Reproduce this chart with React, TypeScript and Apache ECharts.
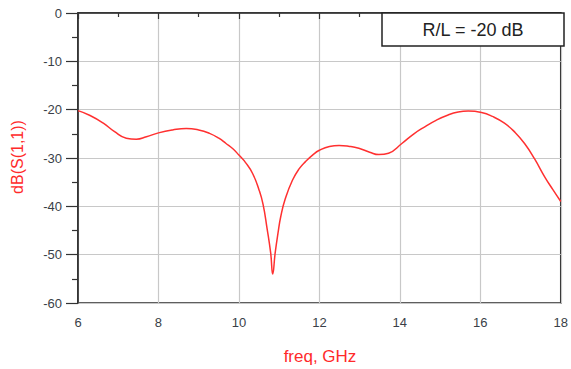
import React, { useEffect, useRef } from "react";
import * as echarts from "echarts";

const freqGHz = [
  6.0, 6.3, 6.63, 6.9, 7.2, 7.45, 7.7, 8.0, 8.35, 8.69, 9.0, 9.27, 9.5, 9.68,
  9.85, 10.0, 10.17, 10.34, 10.5, 10.6, 10.7, 10.79, 10.84, 10.9, 10.97, 11.04,
  11.15, 11.33, 11.5, 11.66, 11.83, 12.0, 12.25, 12.49, 12.75, 12.98, 13.25,
  13.48, 13.72, 14.05, 14.35, 14.63, 14.9, 15.2, 15.45, 15.7, 16.03, 16.3,
  16.6, 16.85, 17.1, 17.35, 17.6, 17.8, 18.0,
];
const s11dB = [
  -20.2, -21.2, -22.8, -24.5, -25.9, -26.1, -25.6, -24.8, -24.2, -23.9, -24.2,
  -24.9, -25.9, -27.0, -28.1, -29.4, -31.0, -33.2, -36.6, -39.6, -44.6, -49.7,
  -54.0, -49.7, -45.6, -42.1, -38.5, -34.6, -32.2, -30.7, -29.4, -28.4, -27.6,
  -27.4, -27.6, -28.0, -28.8, -29.3, -29.0, -27.0, -25.0, -23.5, -22.2, -21.1,
  -20.5, -20.3, -20.6, -21.4, -22.8, -24.6, -27.0, -30.2, -33.9, -36.5, -39.0,
];
const legendText = "R/L = -20 dB";
const xTitle = "freq, GHz";
const yTitle = "dB(S(1,1))";

export default function App() {
  const ref = useRef<HTMLDivElement>(null);
  useEffect(() => {
    if (!ref.current) return;
    const chart = echarts.init(ref.current, null, { renderer: "svg" });
    const data = freqGHz.map((f, i) => [f, s11dB[i]]);
    const labelColor = "#3a3f48";
    chart.setOption({
      animation: false,
      backgroundColor: "#ffffff",
      grid: {
        left: 78,
        right: 8,
        top: 13,
        bottom: 66,
        show: true,
        borderColor: "#2a2a2a",
        borderWidth: 1.6,
        backgroundColor: "transparent",
      },
      xAxis: {
        type: "value",
        min: 6,
        max: 18,
        interval: 2,
        axisLine: { show: true, lineStyle: { color: "#2a2a2a", width: 1.6 } },
        axisTick: { show: true, length: 6, lineStyle: { color: "#333333", width: 1.2 } },
        minorTick: { show: true, splitNumber: 2, length: 4, lineStyle: { color: "#333333", width: 1.2 } },
        axisLabel: { color: labelColor, fontSize: 13, fontFamily: "Liberation Sans, Arial", margin: 13 },
        splitLine: { show: true, lineStyle: { color: "#c8c8c8", width: 1.2 } },
      },
      yAxis: {
        type: "value",
        min: -60,
        max: 0,
        interval: 10,
        axisLine: { show: true, lineStyle: { color: "#2a2a2a", width: 1.6 } },
        axisTick: { show: true, length: 12, lineStyle: { color: "#333333", width: 1.2 } },
        minorTick: { show: true, splitNumber: 2, length: 6, lineStyle: { color: "#333333", width: 1.2 } },
        axisLabel: { color: labelColor, fontSize: 13, fontFamily: "Liberation Sans, Arial", margin: 16 },
        splitLine: { show: true, lineStyle: { color: "#c8c8c8", width: 1.2 } },
      },
      series: [
        {
          type: "line",
          data,
          smooth: 0.5,
          showSymbol: false,
          lineStyle: { color: "#ff3030", width: 1.5 },
          z: 3,
        },
      ],
      graphic: [
        {
          type: "rect",
          shape: { x: 382, y: 13, width: 182, height: 33 },
          style: { fill: "#ffffff", stroke: "#222222", lineWidth: 1.5 },
          z: 100,
        },
        {
          type: "text",
          x: 473,
          y: 30,
          style: {
            text: legendText,
            fill: "#222222",
            fontSize: 18,
            fontFamily: "Liberation Sans, Arial",
            textAlign: "center",
            textVerticalAlign: "middle",
          },
          z: 101,
        },
        {
          type: "text",
          x: 320,
          y: 356,
          style: {
            text: xTitle,
            fill: "#ff2a2a",
            fontSize: 17,
            fontFamily: "Liberation Sans, Arial",
            textAlign: "center",
            textVerticalAlign: "middle",
          },
        },
        {
          type: "text",
          x: 17,
          y: 157,
          rotation: Math.PI / 2,
          style: {
            text: yTitle,
            fill: "#ff2a2a",
            fontSize: 16,
            fontFamily: "Liberation Sans, Arial",
            textAlign: "center",
            textVerticalAlign: "middle",
          },
        },
      ],
    });
    return () => chart.dispose();
  }, []);
  return (
    <div
      ref={ref}
      style={{ position: "fixed", left: 0, top: 0, width: 571, height: 369, background: "#fff" }}
    />
  );
}
